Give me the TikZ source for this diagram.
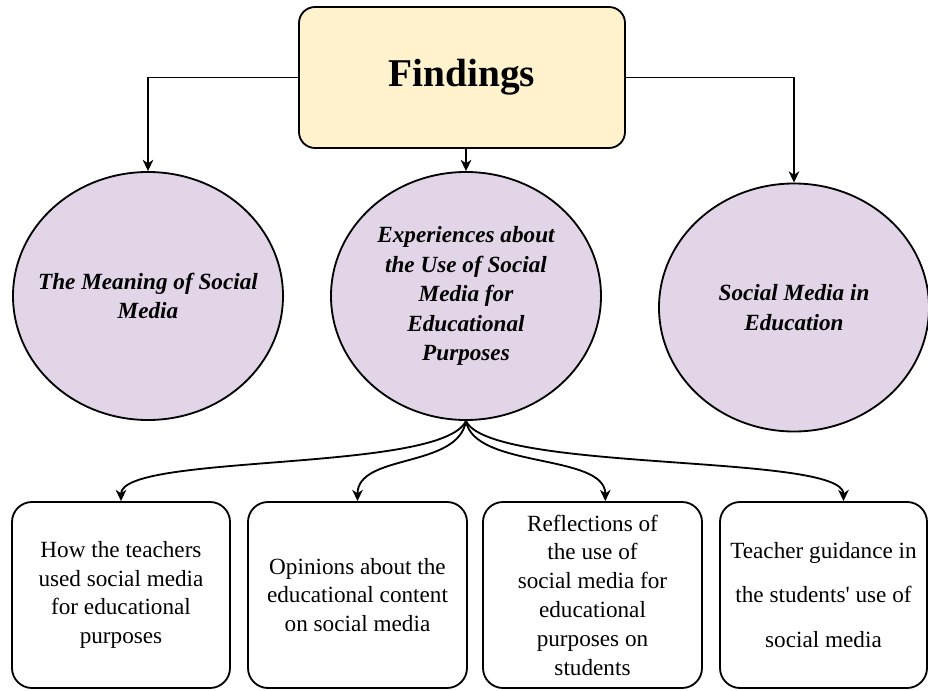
\documentclass[tikz,border=0pt]{standalone}
\usepackage{fontspec}
\setmainfont{Liberation Serif}
\usepackage{tikz}
\usetikzlibrary{calc, arrows.meta, positioning, shapes.geometric}
\usepackage{xcolor}
\definecolor{findfill}{HTML}{FFF2CC}
\definecolor{themefill}{HTML}{E1D5E7}
\tikzset{
    mainbox/.style = {draw, line width=1.3pt, rounded corners=0.4cm, fill=findfill, minimum width=8.15cm, minimum height=3.525cm, font=\fontsize{28}{32}\selectfont\bfseries},
    theme/.style = {draw, ellipse, line width=1.3pt, fill=themefill, inner xsep=-20pt, inner ysep=0pt, minimum width=6.75cm, minimum height=6.2cm, align=center, font=\fontsize{16.5}{21}\selectfont\bfseries\itshape},
    subbox/.style = {draw, line width=1.3pt, rounded corners=0.5cm, minimum height=4.65cm, align=center, font=\fontsize{16.5}{20.5}\selectfont},
    arr/.style = {-{Stealth[length=8pt, width=7.5pt, inset=2.5pt]}, line width=1.3pt}
}
\newcommand{\drawT}[4]{
    \node[theme] (#3) at (#1, #2) {#4};
}
\newcommand{\drawS}[4]{
    \node[subbox, minimum width=#2cm] (#3) at (#1, 2.375) {#4};
}
\newcommand{\drawC}[2]{
    \draw[arr] (exp.south) .. controls +(#1) and +(0,1.2) .. (#2);
}

\begin{document}
\begin{tikzpicture}
    \useasboundingbox (0,0) rectangle (23.2,17.25);
    %Nodes
        \node[mainbox] (find) at (11.55, 15.3125) {Findings};

        \drawT{3.7}{9.85}{mean}{The Meaning of Social\\Media}
        \drawT{11.65}{9.85}{exp}{Experiences about\\the Use of Social\\Media for\\Educational\\Purposes}
        \drawT{19.85}{9.5625}{edu}{Social Media in\\Education}

        \drawS{3.025}{5.45}{how}{How the teachers\\used social media\\for educational\\purposes}
        \drawS{8.9375}{5.475}{opin}{Opinions about the\\educational content\\on social media}
        \drawS{14.8125}{5.475}{refl}{Reflections of\\the use of\\social media for\\educational\\purposes on\\students}
        \drawS{20.5875}{5.175}{guide}{Teacher guidance in\\[11pt]the students\textquotesingle{} use of\\[11pt]social media}

    % Top edges
        \draw[arr] (find.west) -| (mean.north);
        \draw[arr] (find.south -| exp.north) -- (exp.north);
        \draw[arr] (find.east) -| (edu.north);

    % Curved edges
        \drawC{-0.6,-1.3}{how.north}
        \drawC{-0.2,-1.2}{opin.north}
        \drawC{0.2,-1.2}{$(refl.north)+(0.32,0)$}
        \drawC{0.6,-1.3}{$(guide.north)+(0.5,0)$}
\end{tikzpicture}
\end{document}
